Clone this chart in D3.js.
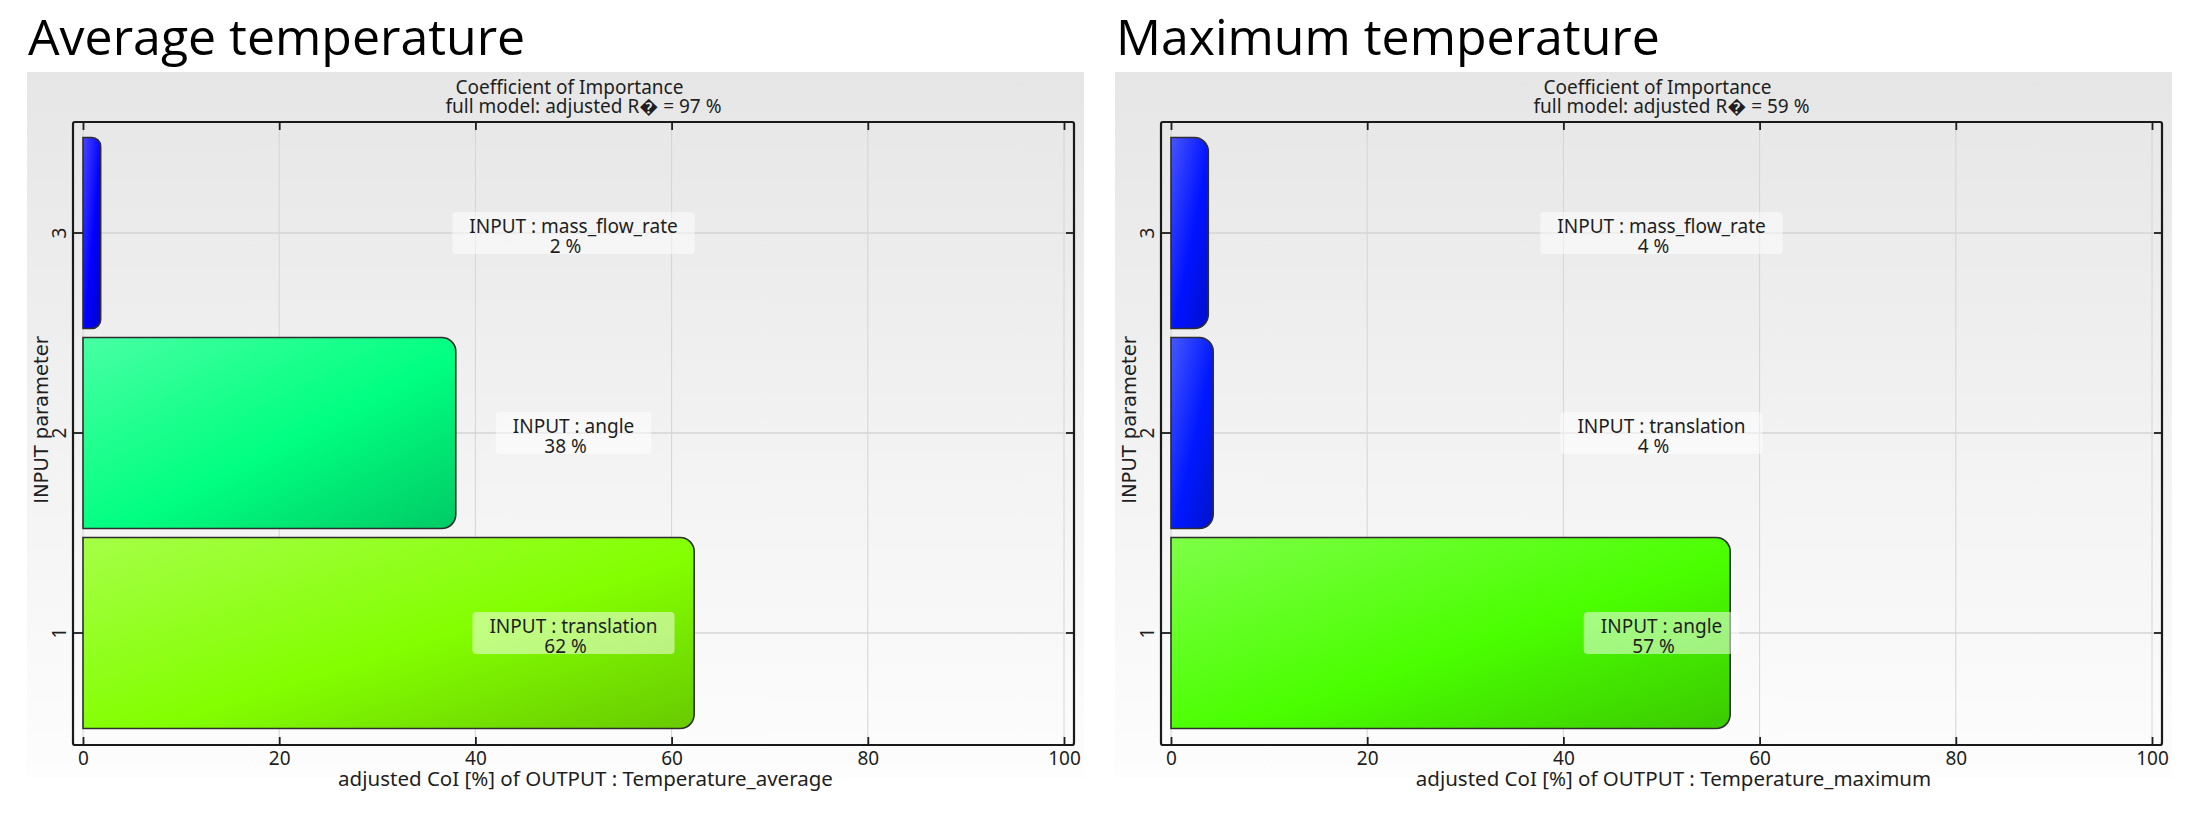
<!DOCTYPE html>
<html lang="en">
<head>
<meta charset="UTF-8">
<title>Coefficient of Importance</title>
<style>
  html, body { margin: 0; padding: 0; background: #fff; }
  svg { display: block; }
  text { fill: #1e1e1e; }
</style>
</head>
<body>

<div id="chart-container"></div>

<script src="https://d3js.org/d3.v7.min.js"></script>
<script>
// INPUT parameter index (y categories) and x ticks
const categories = [1, 2, 3];
const xTicks = [0, 20, 40, 60, 80, 100];

// left chart: average temperature
const avgTitle = "Average temperature";
const avgOutput = "Temperature_average";
const avgR2 = 97;
const avgParams = ["translation", "angle", "mass_flow_rate"];
const avgCoI = [62.3, 38, 1.8];

// right chart: maximum temperature
const maxTitle = "Maximum temperature";
const maxOutput = "Temperature_maximum";
const maxR2 = 59;
const maxParams = ["angle", "translation", "mass_flow_rate"];
const maxCoI = [57, 4.3, 3.8];

const width = 2189;
const height = 838;
const font = "'Noto Sans', 'Open Sans', sans-serif";

const svg = d3.select('#chart-container')
    .append('svg')
    .attr('width', width)
    .attr('height', height);

const defs = svg.append('defs');

// panel background: light grey at top fading to white
const pg = defs.append('linearGradient')
    .attr('id', 'panelGrad')
    .attr('x1', 0).attr('y1', 0).attr('x2', 0).attr('y2', 1);
pg.append('stop').attr('offset', 0).attr('stop-color', '#e6e6e6');
pg.append('stop').attr('offset', 1).attr('stop-color', '#fdfdfd');

// colour by CoI value, blue for small -> green for large
const hue = d3.scaleLinear().domain([0, 100]).range([245, -5]);

function drawChart(ox, key, title, output, r2, params, values) {
    const g = svg.append('g').attr('transform', `translate(${ox},0)`);

    g.append('text')
        .attr('x', 28)
        .attr('y', 55)
        .style('font-family', "'Open Sans', sans-serif")
        .style('font-size', '50px')
        .style('fill', '#000')
        .text(title);

    g.append('rect')
        .attr('x', 27).attr('y', 72)
        .attr('width', 1057).attr('height', 706)
        .attr('fill', 'url(#panelGrad)');

    const x = d3.scaleLinear().domain([0, 100]).range([83, 1064]);
    const y = d3.scaleBand()
        .domain(categories.slice().reverse())
        .range([133, 733])
        .paddingInner(0.045)
        .paddingOuter(0.0225);
    const cy = d => y(d) + y.bandwidth() / 2;

    const left = x.range()[0] - 10, right = x.range()[1] + 10;
    const top = y.range()[0] - 11, bottom = y.range()[1] + 12;

    // chart title
    const t = g.append('text')
        .attr('text-anchor', 'middle')
        .style('font-family', font)
        .style('font-size', '19px');
    t.append('tspan').attr('x', (left + right) / 2 - 4).attr('y', 94)
        .text('Coefficient of Importance');
    t.append('tspan').attr('x', (left + right) / 2 + 10).attr('y', 113)
        .text(`full model: adjusted R\uFFFD = ${r2} %`);

    // grid
    g.append('g').selectAll('line')
        .data(xTicks)
        .join('line')
        .attr('x1', d => x(d)).attr('x2', d => x(d))
        .attr('y1', top).attr('y2', bottom)
        .attr('stroke', '#d4d4d4').attr('stroke-width', 1);
    g.append('g').selectAll('line')
        .data(categories)
        .join('line')
        .attr('x1', left).attr('x2', right)
        .attr('y1', d => cy(d)).attr('y2', d => cy(d))
        .attr('stroke', '#d4d4d4').attr('stroke-width', 1.5);

    // bars
    const rows = categories.map((c, i) => ({ cat: c, param: params[i], value: values[i] }));

    rows.forEach((d, i) => {
        const base = d3.hsl(hue(d.value), 1, 0.5).rgb();
        const gr = defs.append('linearGradient')
            .attr('id', `${key}-bar${i}`)
            .attr('x1', 0).attr('y1', 0).attr('x2', 1).attr('y2', 1);
        gr.append('stop').attr('offset', 0).attr('stop-color', d3.interpolateRgb(base, '#fff')(0.28));
        gr.append('stop').attr('offset', 0.55).attr('stop-color', base);
        gr.append('stop').attr('offset', 1).attr('stop-color', base.darker(0.65));
    });

    function barPath(d) {
        const x0 = x(0), x1 = x(d.value);
        const y0 = y(d.cat), y1 = y0 + y.bandwidth();
        const r = Math.min(14, (x1 - x0) / 2);
        const p = d3.path();
        p.moveTo(x0, y0);
        p.lineTo(x1 - r, y0);
        p.arcTo(x1, y0, x1, y0 + r, r);
        p.lineTo(x1, y1 - r);
        p.arcTo(x1, y1, x1 - r, y1, r);
        p.lineTo(x0, y1);
        p.closePath();
        return p.toString();
    }

    g.append('g').selectAll('path')
        .data(rows)
        .join('path')
        .attr('d', barPath)
        .attr('fill', (d, i) => `url(#${key}-bar${i})`)
        .attr('stroke', '#2e2e2e')
        .attr('stroke-width', 1.6);

    // axes, ticks pointing inward
    const axisStyle = sel => {
        sel.select('.domain').remove();
        sel.selectAll('.tick line').attr('stroke', '#1e1e1e').attr('stroke-width', 1.8);
        sel.selectAll('.tick text')
            .style('font-family', font)
            .style('font-size', '19px')
            .attr('fill', '#1e1e1e');
    };

    g.append('g')
        .attr('transform', `translate(0,${bottom})`)
        .call(d3.axisBottom(x).tickValues(xTicks).tickSizeInner(-8).tickSizeOuter(0).tickPadding(7))
        .call(axisStyle);
    g.append('g')
        .attr('transform', `translate(0,${top})`)
        .call(d3.axisTop(x).tickValues(xTicks).tickSizeInner(-8).tickSizeOuter(0).tickFormat(''))
        .call(axisStyle);
    g.append('g')
        .attr('transform', `translate(${right},0)`)
        .call(d3.axisRight(y).tickSizeInner(-8).tickSizeOuter(0).tickFormat(''))
        .call(axisStyle);
    const ya = g.append('g')
        .attr('transform', `translate(${left},0)`)
        .call(d3.axisLeft(y).tickSizeInner(-10).tickSizeOuter(0))
        .call(axisStyle);
    ya.selectAll('.tick text')
        .attr('text-anchor', 'middle')
        .attr('x', 0).attr('dy', null)
        .attr('y', -7)
        .attr('transform', 'rotate(-90)');

    // frame
    g.append('rect')
        .attr('x', left).attr('y', top)
        .attr('width', right - left).attr('height', bottom - top)
        .attr('rx', 2)
        .attr('fill', 'none')
        .attr('stroke', '#1a1a1a')
        .attr('stroke-width', 2.2);

    // axis titles
    g.append('text')
        .attr('text-anchor', 'middle')
        .attr('x', (left + right) / 2 + 12)
        .attr('y', 786)
        .style('font-family', font)
        .style('font-size', '20.5px')
        .text(`adjusted CoI [%] of OUTPUT : ${output}`);

    g.append('text')
        .attr('text-anchor', 'middle')
        .attr('transform', 'translate(48,420) rotate(-90)')
        .style('font-family', "'DejaVu Sans', sans-serif")
        .style('font-size', '19.5px')
        .text('INPUT parameter');

    // value labels in the middle of the axis
    const lab = g.append('g').selectAll('g')
        .data(rows)
        .join('g')
        .attr('transform', d => `translate(${x(50)},${cy(d.cat)})`);

    const bg = lab.append('rect')
        .attr('fill', 'rgba(255,255,255,0.5)')
        .attr('rx', 4);

    const tx = lab.append('text')
        .attr('text-anchor', 'middle')
        .style('font-family', font)
        .style('font-size', '19px');
    tx.append('tspan').attr('x', 0).attr('y', 0).text(d => `INPUT : ${d.param}`);
    tx.append('tspan').attr('x', -8).attr('y', 19.5).text(d => `${Math.round(d.value)} %`);

    bg.each(function() {
        const w = this.parentNode.querySelector('tspan').getComputedTextLength();
        d3.select(this)
            .attr('x', -w / 2 - 17).attr('y', -21)
            .attr('width', w + 34).attr('height', 42);
    });
}

drawChart(0, 'avg', avgTitle, avgOutput, avgR2, avgParams, avgCoI);
drawChart(1088, 'max', maxTitle, maxOutput, maxR2, maxParams, maxCoI);
</script>

</body>
</html>
